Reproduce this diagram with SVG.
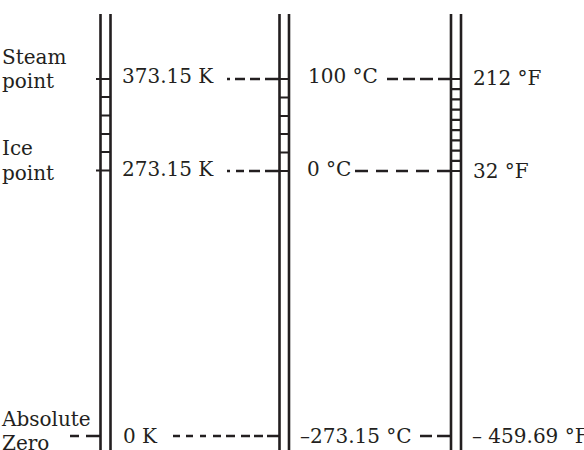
<svg xmlns="http://www.w3.org/2000/svg" width="584" height="450" viewBox="0 0 584 450">
<style>
text{font-family:"DejaVu Serif","Liberation Serif",serif;font-size:20px;fill:#231f20}
.tube{stroke:#231f20;stroke-width:2.6;fill:none}
.tick{stroke:#231f20;stroke-width:2.2;fill:none}
.dash{stroke:#231f20;stroke-width:2.4;fill:none}
</style>
<rect width="584" height="450" fill="#fff"/>
<g id="kelvin-scale">
<path class="tube" d="M100.5 14V450M110.5 14V450"/>
<path class="tick" d="M96 79H110.5M100.5 97H110.5M100.5 115.5H110.5M100.5 134H110.5M100.5 152H110.5M96 170.5H110.5M96 436H100.5"/>
</g>
<g id="celsius-scale">
<path class="tube" d="M279.5 14V450M289 14V450"/>
<path class="tick" d="M279.5 79H289M279.5 97.5H289M279.5 116H289M279.5 134H289M279.5 152.5H289M279.5 171H289"/>
</g>
<g id="fahrenheit-scale">
<path class="tube" d="M451 14V450M461 14V450"/>
<path class="tick" d="M451 79H461M451 89.2H461M451 99.4H461M451 109.7H461M451 119.9H461M451 130.1H461M451 140.3H461M451 150.6H461M451 160.8H461M451 171H461"/>
</g>
<g id="label-steam"><text x="2" y="64">Steam</text><text x="2" y="88">point</text></g>
<g id="label-ice"><text x="2" y="155">Ice</text><text x="2" y="180">point</text></g>
<g id="label-absolute"><text x="2" y="426">Absolute</text><text x="2" y="450">Zero</text></g>
<g id="k-values">
<text x="122" y="83">373.15 K</text>
<text x="122" y="176">273.15 K</text>
<text x="123" y="443">0 K</text>
</g>
<g id="c-values">
<text x="308" y="83">100 °C</text>
<text x="307" y="176">0 °C</text>
<text x="300" y="443">–273.15 °C</text>
</g>
<g id="f-values">
<text x="473" y="85">212 °F</text>
<text x="473" y="178">32 °F</text>
<text x="472" y="443">– 459.69 °F</text>
</g>
<g id="connectors">
<path class="dash" d="M227 79h3M235 79h10M250 79h10M265 79h14.5"/>
<path class="dash" d="M227 171h3M236 171h8M249 171h11M265 171h14.5"/>
<path class="dash" d="M387 79h11M403 79h12M420 79h13M438 79h13"/>
<path class="dash" d="M355 171h13M376 171h12M396 171h12M416 171h13M437 171h14"/>
<path class="dash" d="M70 436h9M86 436h14.5"/>
<path class="dash" d="M173 436h7M186 436h7M200 436h6M213 436h8M226 436h9M241 436h9M254 436h9M267 436h12.5"/>
<path class="dash" d="M420 436h12M437 436h14"/>
</g>
</svg>
